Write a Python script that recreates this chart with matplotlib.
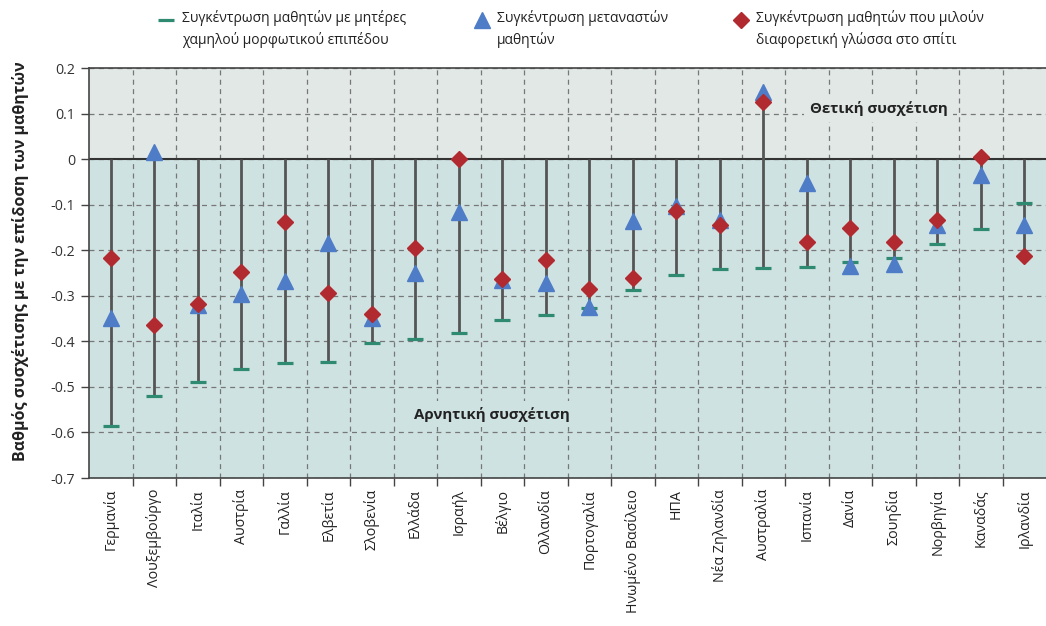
import matplotlib
matplotlib.use('Agg')
import matplotlib.pyplot as plt
import numpy as np
from matplotlib.lines import Line2D
from matplotlib.patches import Rectangle

plt.rcParams['font.family'] = ['Open Sans', 'DejaVu Sans']
plt.rcParams['axes.unicode_minus'] = False

# χώρες
xoras = ['Γερμανία', 'Λουξεμβούργο', 'Ιταλία', 'Αυστρία', 'Γαλλία', 'Ελβετία',
         'Σλοβενία', 'Ελλάδα', 'Ισραήλ', 'Βέλγιο', 'Ολλανδία', 'Πορτογαλία',
         'Ηνωμένο Βασίλειο', 'ΗΠΑ', 'Νέα Ζηλανδία', 'Αυστραλία', 'Ισπανία',
         'Δανία', 'Σουηδία', 'Νορβηγία', 'Καναδάς', 'Ιρλανδία']

# μητέρες χαμηλού μορφωτικού επιπέδου
mitera = [-0.586, -0.52, -0.49, -0.46, -0.447, -0.445, -0.404, -0.395, -0.382,
          -0.353, -0.342, -0.327, -0.288, -0.255, -0.241, -0.24, -0.237,
          -0.226, -0.217, -0.187, -0.153, -0.097]
# μετανάστες
metanastes = [-0.349, 0.015, -0.32, -0.295, -0.268, -0.185, -0.349, -0.25,
              -0.116, -0.266, -0.272, -0.325, -0.136, -0.103, -0.134, 0.147,
              -0.052, -0.235, -0.23, -0.145, -0.035, -0.145]
# διαφορετική γλώσσα στο σπίτι
glossa = [-0.217, -0.364, -0.318, -0.248, -0.138, -0.294, -0.34, -0.195, 0.0,
          -0.263, -0.222, -0.285, -0.262, -0.114, -0.145, 0.125, -0.182,
          -0.151, -0.182, -0.134, 0.005, -0.213]

yticks = [0.2, 0.1, 0, -0.1, -0.2, -0.3, -0.4, -0.5, -0.6, -0.7]

prasino = '#2e8a70'
mple = '#4f7cc6'
kokkino = '#b02a30'
pano = '#e1e8e6'
kato = '#cfe2e2'

fig = plt.figure(figsize=(10.46, 6.26), dpi=100)
ax = fig.add_axes([89/1046, 148/626, 957/1046, 410/626])

x = np.arange(len(xoras))
ax.set_xlim(-0.5, len(xoras) - 0.5)
ax.set_ylim(-0.7, 0.2)

# φόντο
ax.add_patch(Rectangle((-0.5, 0), len(xoras), 0.2, facecolor=pano, edgecolor='none', zorder=0))
ax.add_patch(Rectangle((-0.5, -0.7), len(xoras), 0.7, facecolor=kato, edgecolor='none', zorder=0))

# πλέγμα
ax.set_yticks(yticks)
ax.set_yticklabels([str(v) for v in yticks])
ax.set_xticks(x)
ax.set_xticklabels(xoras, rotation=90)
ax.set_xticks(np.arange(0.5, len(xoras) - 1, 1), minor=True)
ax.grid(True, axis='y', which='major', color='#777777', ls=(0, (4, 3.5)), lw=0.9, zorder=1)
ax.grid(True, axis='x', which='minor', color='#777777', ls=(0, (4, 3.5)), lw=0.9, zorder=1)
ax.tick_params(axis='x', which='major', length=0, pad=8, labelsize=10.3, labelcolor='#222222')
ax.tick_params(axis='x', which='minor', length=6, width=1, color='#444444')
ax.tick_params(axis='y', length=6, width=1, color='#444444', labelsize=10.3, labelcolor='#333333', pad=4)

ax.axhline(0, color='#333333', lw=1.5, zorder=2)
for s in ['left', 'bottom', 'top']:
    ax.spines[s].set_color('#444444')
    ax.spines[s].set_linewidth(1.2)
ax.spines['right'].set_visible(False)

# κάθετες γραμμές
for i in x:
    vals = [mitera[i], metanastes[i], glossa[i]]
    ax.vlines(i, min(vals), max(0, max(vals)), color='#555555', lw=2, zorder=3)

ax.plot(x, mitera, ls='none', marker='_', ms=11, mew=2.3, color=prasino, zorder=4)
ax.plot(x, metanastes, ls='none', marker='^', ms=11, color=mple, zorder=5)
ax.plot(x, glossa, ls='none', marker='D', ms=8, color=kokkino, zorder=6)

ax.text(17.65, 0.11, 'Θετική συσχέτιση', ha='center', va='center', fontsize=10.8,
        fontweight='bold', color='#222222', zorder=3,
        bbox=dict(facecolor=pano, edgecolor='none', pad=4))
ax.text(8.76, -0.56, 'Αρνητική συσχέτιση', ha='center', va='center', fontsize=10.8,
        fontweight='bold', color='#222222', zorder=3,
        bbox=dict(facecolor=kato, edgecolor='none', pad=4))

ax.set_ylabel('Βαθμός συσχέτισης με την επίδοση των μαθητών', fontsize=11.5,
              fontweight='bold', color='#222222')
ax.yaxis.set_label_coords(-0.063, 0.53)

# υπόμνημα
def ypomnima(xm, xt, marker, color, ms, mew, label):
    fig.add_artist(Line2D([xm / 1046], [1 - 20 / 626], marker=marker, color=color,
                          ms=ms, mew=mew, ls='none', transform=fig.transFigure))
    fig.text(xt / 1046, 1 - 10 / 626, label, ha='left', va='top', fontsize=10,
             color='#222222', linespacing=1.5)

ypomnima(166, 182, '_', prasino, 11, 2.3, 'Συγκέντρωση μαθητών με μητέρες\nχαμηλού μορφωτικού επιπέδου')
ypomnima(482, 497, '^', mple, 11, 1, 'Συγκέντρωση μεταναστών\nμαθητών')
ypomnima(741, 756, 'D', kokkino, 8, 1, 'Συγκέντρωση μαθητών που μιλούν\nδιαφορετική γλώσσα στο σπίτι')

fig.savefig('out.png', dpi=100)
